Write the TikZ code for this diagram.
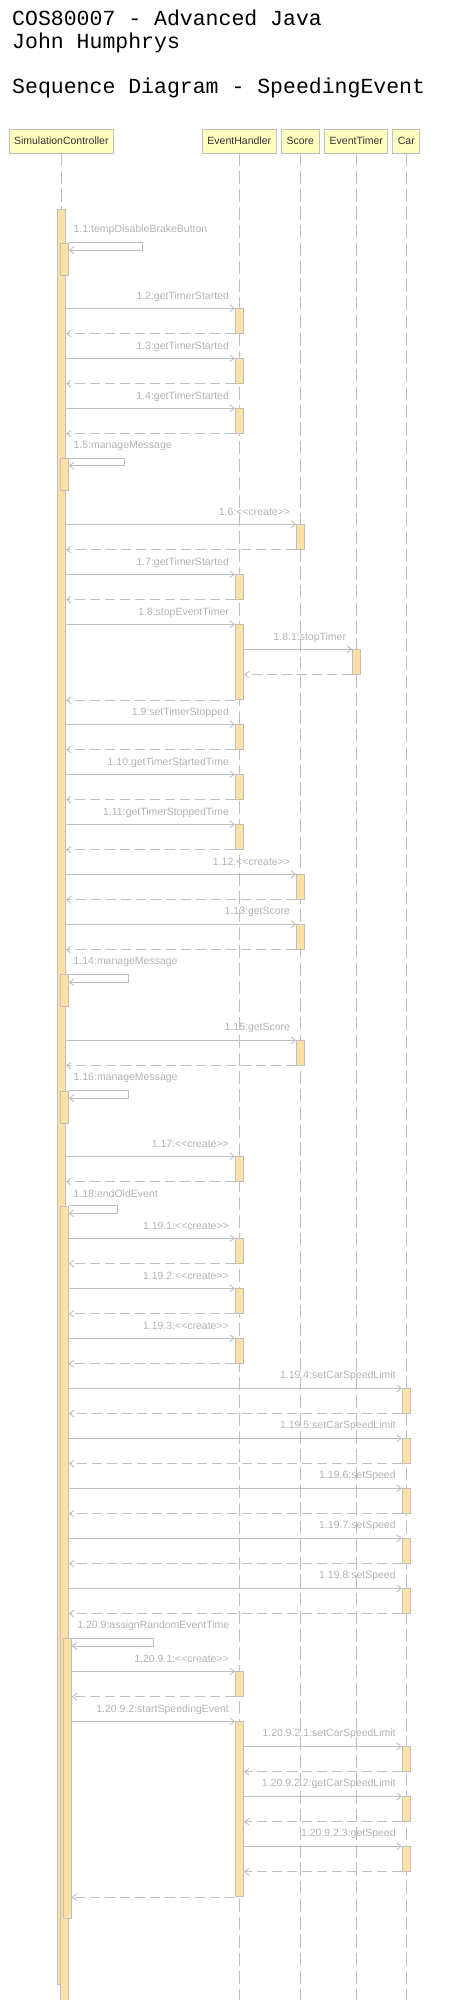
\documentclass[tikz,border=0pt]{standalone}
\usepackage{fontspec}
\usetikzlibrary{arrows.meta}
\newfontfamily\uifont{Liberation Sans}
\newfontfamily\titlefont{Liberation Mono}
\definecolor{linegray}{HTML}{BFBFBF}
\definecolor{lbltext}{HTML}{B3B3B3}
\definecolor{actfill}{HTML}{FFE0A6}
\definecolor{headfill}{HTML}{FFFFC0}
\definecolor{headtext}{HTML}{333333}

\tikzset{
  head/.style={draw=linegray, fill=headfill, text=headtext, line width=0.9pt,
    minimum height=24pt, inner xsep=5pt, inner ysep=0pt,
    font=\uifont\fontsize{10.5}{12}\selectfont},
  life/.style={draw=linegray, line width=0.9pt, dash pattern=on 13pt off 5pt},
  act/.style={draw=linegray, fill=actfill, line width=0.9pt, anchor=north,
    minimum width=8pt, minimum height=24.5pt, inner sep=0pt},
  msg/.style={draw=linegray, line width=0.9pt,
    -{Straight Barb[length=4.5pt,width=7pt]}},
  ret/.style={msg, dash pattern=on 10pt off 5pt},
  lbl/.style={text=lbltext, anchor=east, inner sep=0pt,
    font=\uifont\fontsize{10.5}{12}\selectfont},
  selflbl/.style={lbl, anchor=west},
  titletext/.style={anchor=base west, inner sep=0pt,
    font=\titlefont\fontsize{21.5}{23}\selectfont}
}

\begin{document}
\begin{tikzpicture}[x=1pt, y=-1pt]
\useasboundingbox (0,0) rectangle (448,2000);
\coordinate (bot) at (0,2000);

% title
\node[titletext] (title1) at (12,25) {COS80007 - Advanced Java};
\node[titletext] (title2) at (12,48) {John Humphrys};
\node[titletext] (title3) at (12,93.5) {Sequence Diagram - SpeedingEvent};

% lifelines
\node[head] (sc) at (61.3,141) {SimulationController};
\node[head] (eh) at (239.3,141) {EventHandler};
\node[head] (score) at (300.3,141) {Score};
\node[head] (et) at (356.3,141) {EventTimer};
\node[head] (car) at (406.3,141) {Car};

\draw[life] (sc.south) -- (sc.south |- bot);
\draw[life] (eh.south) -- (eh.south |- bot);
\draw[life] (score.south) -- (score.south |- bot);
\draw[life] (et.south) -- (et.south |- bot);
\draw[life] (car.south) -- (car.south |- bot);

% activations on SimulationController
\node[act, minimum height=1775pt] (m0) at (61.5,209.3) {};
\node[act, minimum height=32pt] (a11) at (64.3,242.7) {};
\node[act, minimum height=32pt] (a15) at (64.3,458.3) {};
\node[act, minimum height=32pt] (a114) at (64.3,974.3) {};
\node[act, minimum height=32pt] (a116) at (64.3,1090.7) {};
\node[act, minimum height=1745.3pt] (a118) at (64.3,1205.7) {};
\node[act, minimum height=280pt] (a1209) at (67.3,1638.3) {};

% 1.1
\draw[msg] (a11.north east) -- ++(73.4,0) |- ([yshift=-7.5pt]a11.north east);
\node[selflbl] at ([xshift=4.7pt,yshift=12.5pt]a11.north east) {1.1:tempDisableBrakeButton};

% 1.2 - 1.4
\node[act] (a12) at (239.5,308.3) {};
\draw[msg] (m0.east |- a12.north) -- (a12.north west);
\draw[ret] (a12.south west) -- (m0.east |- a12.south);
\node[lbl] at ([xshift=-6pt,yshift=12pt]a12.north west) {1.2:getTimerStarted};

\node[act] (a13) at (239.5,358.3) {};
\draw[msg] (m0.east |- a13.north) -- (a13.north west);
\draw[ret] (a13.south west) -- (m0.east |- a13.south);
\node[lbl] at ([xshift=-6pt,yshift=12pt]a13.north west) {1.3:getTimerStarted};

\node[act] (a14) at (239.5,408.3) {};
\draw[msg] (m0.east |- a14.north) -- (a14.north west);
\draw[ret] (a14.south west) -- (m0.east |- a14.south);
\node[lbl] at ([xshift=-6pt,yshift=12pt]a14.north west) {1.4:getTimerStarted};

% 1.5
\draw[msg] (a15.north east) -- ++(56,0) |- ([yshift=-7.5pt]a15.north east);
\node[selflbl] at ([xshift=4.7pt,yshift=12pt]a15.north east) {1.5:manageMessage};

% 1.6 - 1.7
\node[act] (a16) at (300.7,524.3) {};
\draw[msg] (m0.east |- a16.north) -- (a16.north west);
\draw[ret] (a16.south west) -- (m0.east |- a16.south);
\node[lbl] at ([xshift=-6pt,yshift=12pt]a16.north west) {1.6:<<create>>};

\node[act] (a17) at (239.5,574.3) {};
\draw[msg] (m0.east |- a17.north) -- (a17.north west);
\draw[ret] (a17.south west) -- (m0.east |- a17.south);
\node[lbl] at ([xshift=-6pt,yshift=12pt]a17.north west) {1.7:getTimerStarted};

% 1.8 and 1.8.1
\node[act, minimum height=75pt] (a18) at (239.5,624.3) {};
\draw[msg] (m0.east |- a18.north) -- (a18.north west);
\draw[ret] (a18.south west) -- (m0.east |- a18.south);
\node[lbl] at ([xshift=-6pt,yshift=12pt]a18.north west) {1.8:stopEventTimer};

\node[act] (a181) at (356.7,649.3) {};
\draw[msg] (a18.east |- a181.north) -- (a181.north west);
\draw[ret] (a181.south west) -- (a18.east |- a181.south);
\node[lbl] at ([xshift=-6pt,yshift=12pt]a181.north west) {1.8.1:stopTimer};

% 1.9 - 1.13
\node[act] (a19) at (239.5,724.3) {};
\draw[msg] (m0.east |- a19.north) -- (a19.north west);
\draw[ret] (a19.south west) -- (m0.east |- a19.south);
\node[lbl] at ([xshift=-6pt,yshift=12pt]a19.north west) {1.9:setTimerStopped};

\node[act] (a110) at (239.5,774.3) {};
\draw[msg] (m0.east |- a110.north) -- (a110.north west);
\draw[ret] (a110.south west) -- (m0.east |- a110.south);
\node[lbl] at ([xshift=-6pt,yshift=12pt]a110.north west) {1.10:getTimerStartedTime};

\node[act] (a111) at (239.5,824.3) {};
\draw[msg] (m0.east |- a111.north) -- (a111.north west);
\draw[ret] (a111.south west) -- (m0.east |- a111.south);
\node[lbl] at ([xshift=-6pt,yshift=12pt]a111.north west) {1.11:getTimerStoppedTime};

\node[act] (a112) at (300.7,874.3) {};
\draw[msg] (m0.east |- a112.north) -- (a112.north west);
\draw[ret] (a112.south west) -- (m0.east |- a112.south);
\node[lbl] at ([xshift=-6pt,yshift=12pt]a112.north west) {1.12:<<create>>};

\node[act] (a113) at (300.7,924.3) {};
\draw[msg] (m0.east |- a113.north) -- (a113.north west);
\draw[ret] (a113.south west) -- (m0.east |- a113.south);
\node[lbl] at ([xshift=-6pt,yshift=12pt]a113.north west) {1.13:getScore};

% 1.14
\draw[msg] (a114.north east) -- ++(59.4,0) |- ([yshift=-8pt]a114.north east);
\node[selflbl] at ([xshift=4.7pt,yshift=12pt]a114.north east) {1.14:manageMessage};

% 1.15
\node[act] (a115) at (300.7,1040.3) {};
\draw[msg] (m0.east |- a115.north) -- (a115.north west);
\draw[ret] (a115.south west) -- (m0.east |- a115.south);
\node[lbl] at ([xshift=-6pt,yshift=12pt]a115.north west) {1.15:getScore};

% 1.16
\draw[msg] (a116.north east) -- ++(59.4,0) |- ([yshift=-7.5pt]a116.north east);
\node[selflbl] at ([xshift=4.7pt,yshift=12.4pt]a116.north east) {1.16:manageMessage};

% 1.17
\node[act] (a117) at (239.5,1156.3) {};
\draw[msg] (m0.east |- a117.north) -- (a117.north west);
\draw[ret] (a117.south west) -- (m0.east |- a117.south);
\node[lbl] at ([xshift=-6pt,yshift=12.3pt]a117.north west) {1.17:<<create>>};

% 1.18 endOldEvent
\draw[msg] (a118.north east) -- ++(48.4,0) |- ([yshift=-7.6pt]a118.north east);
\node[selflbl] at ([xshift=4.7pt,yshift=12.4pt]a118.north east) {1.18:endOldEvent};

\node[act] (a1191) at (239.5,1238.3) {};
\draw[msg] (a118.east |- a1191.north) -- (a1191.north west);
\draw[ret] (a1191.south west) -- (a118.east |- a1191.south);
\node[lbl] at ([xshift=-6pt,yshift=12.3pt]a1191.north west) {1.19.1:<<create>>};

\node[act] (a1192) at (239.5,1288.3) {};
\draw[msg] (a118.east |- a1192.north) -- (a1192.north west);
\draw[ret] (a1192.south west) -- (a118.east |- a1192.south);
\node[lbl] at ([xshift=-6pt,yshift=12.3pt]a1192.north west) {1.19.2:<<create>>};

\node[act] (a1193) at (239.5,1338.3) {};
\draw[msg] (a118.east |- a1193.north) -- (a1193.north west);
\draw[ret] (a1193.south west) -- (a118.east |- a1193.south);
\node[lbl] at ([xshift=-6pt,yshift=12.3pt]a1193.north west) {1.19.3:<<create>>};

\node[act] (a1194) at (406.3,1388.3) {};
\draw[msg] (a118.east |- a1194.north) -- (a1194.north west);
\draw[ret] (a1194.south west) -- (a118.east |- a1194.south);
\node[lbl] at ([xshift=-6pt,yshift=12.3pt]a1194.north west) {1.19.4:setCarSpeedLimit};

\node[act] (a1195) at (406.3,1438.3) {};
\draw[msg] (a118.east |- a1195.north) -- (a1195.north west);
\draw[ret] (a1195.south west) -- (a118.east |- a1195.south);
\node[lbl] at ([xshift=-6pt,yshift=12.3pt]a1195.north west) {1.19.5:setCarSpeedLimit};

\node[act] (a1196) at (406.3,1488.3) {};
\draw[msg] (a118.east |- a1196.north) -- (a1196.north west);
\draw[ret] (a1196.south west) -- (a118.east |- a1196.south);
\node[lbl] at ([xshift=-6pt,yshift=12.3pt]a1196.north west) {1.19.6:setSpeed};

\node[act] (a1197) at (406.3,1538.3) {};
\draw[msg] (a118.east |- a1197.north) -- (a1197.north west);
\draw[ret] (a1197.south west) -- (a118.east |- a1197.south);
\node[lbl] at ([xshift=-6pt,yshift=12.3pt]a1197.north west) {1.19.7:setSpeed};

\node[act] (a1198) at (406.3,1588.3) {};
\draw[msg] (a118.east |- a1198.north) -- (a1198.north west);
\draw[ret] (a1198.south west) -- (a118.east |- a1198.south);
\node[lbl] at ([xshift=-6pt,yshift=12.3pt]a1198.north west) {1.19.8:setSpeed};

% 1.20.9 assignRandomEventTime
\draw[msg] (a1209.north east) -- ++(82,0) |- ([yshift=-7.7pt]a1209.north east);
\node[selflbl] at ([xshift=5.4pt,yshift=12.3pt]a1209.north east) {1.20.9:assignRandomEventTime};

\node[act] (a12091) at (239.5,1671.3) {};
\draw[msg] (a1209.east |- a12091.north) -- (a12091.north west);
\draw[ret] (a12091.south west) -- (a1209.east |- a12091.south);
\node[lbl] at ([xshift=-6pt,yshift=12.3pt]a12091.north west) {1.20.9.1:<<create>>};

\node[act, minimum height=175pt] (a12092) at (239.5,1721.3) {};
\draw[msg] (a1209.east |- a12092.north) -- (a12092.north west);
\draw[ret] (a12092.south west) -- (a1209.east |- a12092.south);
\node[lbl] at ([xshift=-6pt,yshift=12pt]a12092.north west) {1.20.9.2:startSpeedingEvent};

\node[act] (a120921) at (406.3,1746.3) {};
\draw[msg] (a12092.east |- a120921.north) -- (a120921.north west);
\draw[ret] (a120921.south west) -- (a12092.east |- a120921.south);
\node[lbl] at ([xshift=-6pt,yshift=12.3pt]a120921.north west) {1.20.9.2.1:setCarSpeedLimit};

\node[act] (a120922) at (406.3,1796.3) {};
\draw[msg] (a12092.east |- a120922.north) -- (a120922.north west);
\draw[ret] (a120922.south west) -- (a12092.east |- a120922.south);
\node[lbl] at ([xshift=-6pt,yshift=12.3pt]a120922.north west) {1.20.9.2.2:getCarSpeedLimit};

\node[act] (a120923) at (406.3,1846.3) {};
\draw[msg] (a12092.east |- a120923.north) -- (a120923.north west);
\draw[ret] (a120923.south west) -- (a12092.east |- a120923.south);
\node[lbl] at ([xshift=-6pt,yshift=12.3pt]a120923.north west) {1.20.9.2.3:getSpeed};
\end{tikzpicture}
\end{document}
